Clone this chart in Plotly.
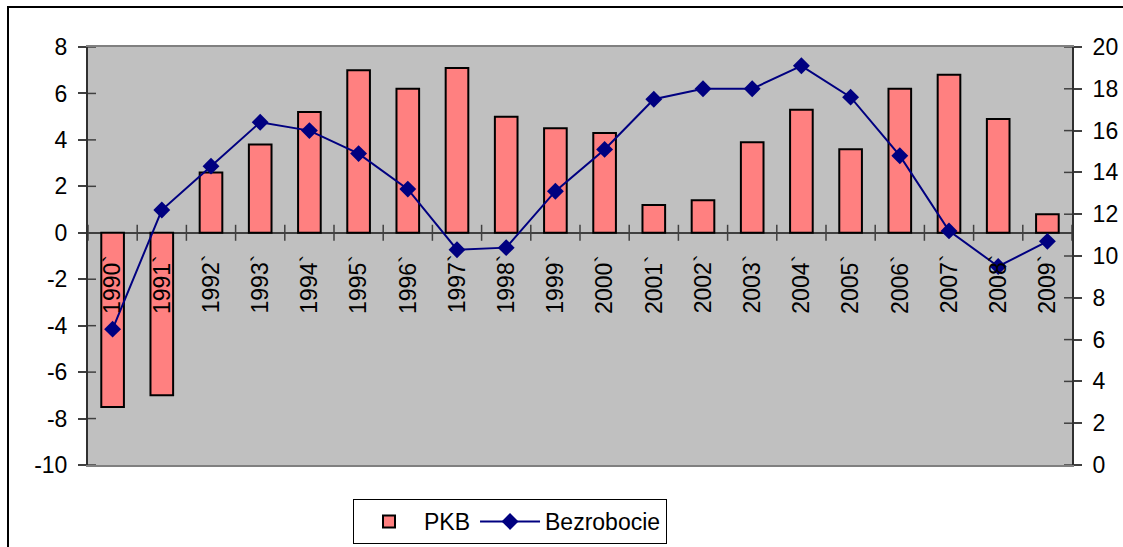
import plotly.graph_objects as go

years = ["1990`", "1991`", "1992`", "1993`", "1994`", "1995`", "1996`", "1997`", "1998`", "1999`",
         "2000`", "2001`", "2002`", "2003`", "2004`", "2005`", "2006`", "2007`", "2008`", "2009`"]
pkb = [-7.5, -7.0, 2.6, 3.8, 5.2, 7.0, 6.2, 7.1, 5.0, 4.5,
       4.3, 1.2, 1.4, 3.9, 5.3, 3.6, 6.2, 6.8, 4.9, 0.8]
bezrobocie = [6.5, 12.2, 14.3, 16.4, 16.0, 14.9, 13.2, 10.3, 10.4, 13.1,
              15.1, 17.5, 18.0, 18.0, 19.1, 17.6, 14.8, 11.2, 9.5, 10.7]
left_ticks = list(range(-10, 9, 2))
right_ticks = list(range(0, 21, 2))

FONT = "Liberation Sans, Arial, sans-serif"
W, H = 1123, 547
ML, MR, MT, MB = 88, 51, 47, 82
PW, PH = W - ML - MR, H - MT - MB

fig = go.Figure()
fig.add_trace(go.Bar(
    x=years, y=pkb, name="PKB",
    marker=dict(color="#FF8080", line=dict(color="#000000", width=2)),
    width=0.46, yaxis="y",
))
fig.add_trace(go.Scatter(
    x=years, y=bezrobocie, name="Bezrobocie", mode="lines+markers",
    line=dict(color="#000080", width=2),
    marker=dict(symbol="diamond", size=13, color="#000080"),
    yaxis="y2",
))

shapes = []
# inside parts of y ticks
for v in left_ticks:
    shapes.append(dict(type="line", xref="paper", xsizemode="pixel", xanchor=0, x0=0, x1=8,
                       yref="y", y0=v, y1=v, line=dict(color="#404040", width=1.5)))
for v in right_ticks:
    shapes.append(dict(type="line", xref="paper", xsizemode="pixel", xanchor=1, x0=-8, x1=0,
                       yref="y2", y0=v, y1=v, line=dict(color="#404040", width=1.5)))
# category boundary ticks on zero line
for i in range(len(years) + 1):
    shapes.append(dict(type="line", xref="x", x0=i - 0.5, x1=i - 0.5,
                       yref="y", ysizemode="pixel", yanchor=0, y0=-8, y1=8,
                       line=dict(color="#404040", width=1.5)))
# outer chart frame (cropped on right and bottom)
shapes.append(dict(type="rect", xref="paper", yref="paper",
                   x0=(8 - ML) / PW, x1=(W + 20 - ML) / PW,
                   y0=-(MB + 20) / PH, y1=(PH + MT - 7) / PH,
                   line=dict(color="#000000", width=2), layer="below"))

annotations = []
for y in years:
    annotations.append(dict(x=y, y=0, xref="x", yref="y", text=y, textangle=-90,
                            showarrow=False, yanchor="top", xanchor="center", yshift=-20,
                            font=dict(family=FONT, size=23, color="#000000")))

fig.update_layout(
    width=W, height=H,
    margin=dict(l=ML, r=MR, t=MT, b=MB, pad=0, autoexpand=False),
    paper_bgcolor="#FFFFFF", plot_bgcolor="#C0C0C0",
    font=dict(family=FONT, size=23, color="#000000"),
    showlegend=True,
    legend=dict(orientation="h", x=(353 - ML) / PW, xanchor="left",
                y=-(499 - (MT + PH)) / PH, yanchor="top",
                bgcolor="#FFFFFF", bordercolor="#000000", borderwidth=1,
                font=dict(family=FONT, size=23, color="#000000"),
                itemwidth=60, traceorder="normal"),
    xaxis=dict(type="category", showticklabels=False, ticks="", showgrid=False,
               showline=True, mirror=True, linecolor="#808080", linewidth=2,
               range=[-0.5, len(years) - 0.5], zeroline=False),
    yaxis=dict(range=[-10, 8], tickvals=left_ticks, ticktext=[str(v) for v in left_ticks],
               ticks="outside", ticklen=8,
               tickwidth=1.5, tickcolor="#404040", showgrid=False,
               showline=True, linecolor="#303030", linewidth=2,
               zeroline=True, zerolinecolor="#404040", zerolinewidth=2,
               ticklabelstandoff=6, tickfont=dict(size=23)),
    yaxis2=dict(range=[0, 20], tickvals=right_ticks, ticktext=[str(v) for v in right_ticks],
                overlaying="y", side="right",
                ticks="outside", ticklen=8, tickwidth=1.5, tickcolor="#404040",
                showgrid=False, showline=True, linecolor="#303030", linewidth=2,
                zeroline=False, ticklabelstandoff=6, tickfont=dict(size=23)),
    shapes=shapes,
    annotations=annotations,
    bargap=0.54,
)

fig.write_html("out.html", config={"displayModeBar": False},
               post_script="document.body.style.margin='0';document.body.style.overflow='hidden';")
